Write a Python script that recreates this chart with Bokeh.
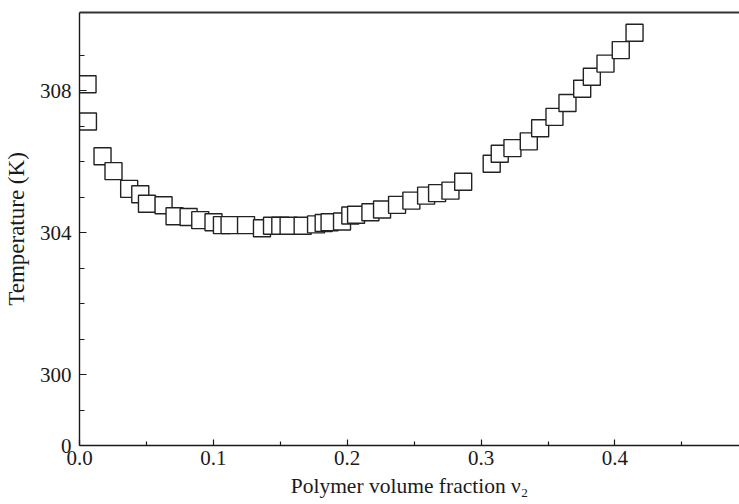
from bokeh.plotting import figure
from bokeh.models import ColumnDataSource, FixedTicker, LinearAxis, Range1d
from bokeh.embed import file_html
from bokeh.resources import INLINE

# Data
volume_fraction = [0.0060, 0.0063, 0.0172, 0.0254, 0.0371, 0.0454, 0.0504, 0.0628, 0.0710,
                   0.0815, 0.0902, 0.1001, 0.1064, 0.1121, 0.1244, 0.1363, 0.1438, 0.1500,
                   0.1562, 0.1667, 0.1767, 0.1824, 0.1868, 0.1961, 0.2023, 0.2066, 0.2173,
                   0.2260, 0.2372, 0.2479, 0.2589, 0.2671, 0.2771, 0.2866, 0.3079, 0.3139,
                   0.3234, 0.3356, 0.3441, 0.3548, 0.3645, 0.3755, 0.3827, 0.3929, 0.4043,
                   0.4146]
temperature = [308.18, 307.13, 306.15, 305.73, 305.23, 305.08, 304.81, 304.77, 304.46,
               304.44, 304.35, 304.29, 304.21, 304.21, 304.21, 304.12, 304.19, 304.19,
               304.19, 304.19, 304.23, 304.27, 304.29, 304.31, 304.48, 304.50, 304.57,
               304.65, 304.78, 304.90, 305.04, 305.11, 305.18, 305.43, 305.94, 306.22,
               306.38, 306.57, 306.94, 307.26, 307.65, 308.05, 308.39, 308.76, 309.14,
               309.63]

x_ticks = [0.0, 0.1, 0.2, 0.3, 0.4, 0.5]
x_tick_labels = ["0.0", "0.1", "0.2", "0.3", "0.4", "0.5"]
x_minor_ticks = [0.05, 0.15, 0.25, 0.35, 0.45]
y_ticks = [298, 300, 304, 308]
y_tick_labels = ["0", "300", "304", "308"]
y_minor_ticks = [299, 301, 302, 303, 305, 306, 307, 309]

FONT = "Liberation Serif"
INK = "#1a1a1a"

src = ColumnDataSource(dict(x=volume_fraction, y=temperature))

p = figure(width=739, height=504, output_backend="svg", toolbar_location=None,
           x_range=Range1d(0.0, 0.493), y_range=Range1d(298.0, 310.2),
           min_border_left=79, min_border_right=0, min_border_top=12, min_border_bottom=59)
p.outline_line_color = None
p.grid.visible = False
p.background_fill_color = "white"
p.border_fill_color = "white"

p.scatter("x", "y", source=src, marker="square", size=17,
          fill_color="white", line_color="#222222", line_width=1.4)

xa = p.xaxis[0]
xa.ticker = FixedTicker(ticks=x_ticks, minor_ticks=x_minor_ticks)
xa.major_label_overrides = {t: l for t, l in zip(x_ticks, x_tick_labels)}
xa.axis_label = "Polymer volume fraction ν₂"

ya = p.yaxis[0]
ya.ticker = FixedTicker(ticks=y_ticks, minor_ticks=y_minor_ticks)
ya.major_label_overrides = {t: l for t, l in zip(y_ticks, y_tick_labels)}
ya.axis_label = "Temperature (K)"

for ax, mj, mn in ((xa, 6, 4), (ya, 7, 5)):
    ax.axis_line_color = INK
    ax.axis_line_width = 1.4
    ax.major_tick_line_color = INK
    ax.minor_tick_line_color = INK
    ax.major_tick_line_width = 1.2
    ax.minor_tick_line_width = 1.2
    ax.major_tick_in = mj
    ax.major_tick_out = 0
    ax.minor_tick_in = mn
    ax.minor_tick_out = 0
    ax.major_label_text_font = FONT
    ax.major_label_text_font_size = "21px"
    ax.major_label_text_color = INK
    ax.axis_label_text_font = FONT
    ax.axis_label_text_font_style = "normal"
    ax.axis_label_text_color = INK

xa.axis_label_text_font_size = "21.5px"
ya.axis_label_text_font_size = "23px"
xa.major_label_standoff = 5
xa.axis_label_standoff = 6
ya.major_label_standoff = 8
ya.axis_label_standoff = 8

top = LinearAxis(ticker=FixedTicker(ticks=[]), axis_line_color="#333333", axis_line_width=1.8,
                 major_tick_in=0, major_tick_out=0, minor_tick_in=0, minor_tick_out=0,
                 major_label_standoff=0, major_label_text_font_size="0px")
p.add_layout(top, "above")

open("out.html", "w").write(file_html(p, INLINE))
